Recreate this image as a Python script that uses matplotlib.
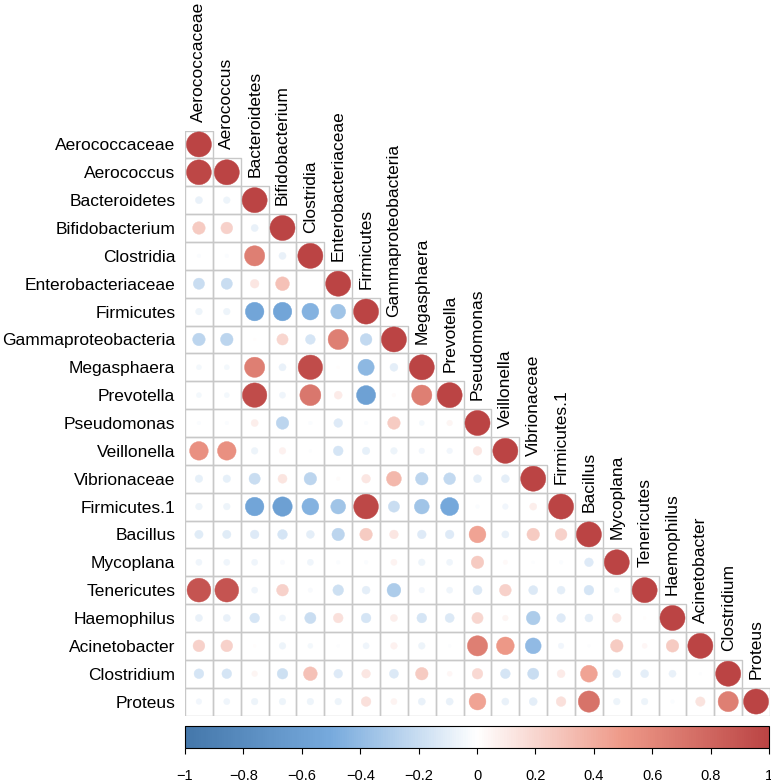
import numpy as np
import matplotlib
matplotlib.use("Agg")
import matplotlib.pyplot as plt
from matplotlib.patches import Circle, Rectangle
from matplotlib.collections import PatchCollection
from matplotlib.colors import LinearSegmentedColormap, Normalize

plt.rcParams['font.family'] = ['Liberation Sans', 'DejaVu Sans']

taxa = ["Aerococcaceae", "Aerococcus", "Bacteroidetes", "Bifidobacterium", "Clostridia",
        "Enterobacteriaceae", "Firmicutes", "Gammaproteobacteria", "Megasphaera", "Prevotella",
        "Pseudomonas", "Veillonella", "Vibrionaceae", "Firmicutes.1", "Bacillus", "Mycoplana",
        "Tenericutes", "Haemophilus", "Acinetobacter", "Clostridium", "Proteus"]

# lower triangle, row i holds correlations with taxa 0..i-1 (diagonal = 1)
corr_lower = [
    [],
    [0.98],
    [-0.08, -0.07],
    [0.25, 0.22, -0.08],
    [-0.02, -0.02, 0.65, -0.08],
    [-0.2, -0.2, 0.12, 0.3, 0.0],
    [-0.07, -0.07, -0.55, -0.55, -0.45, -0.35],
    [-0.25, -0.25, 0.01, 0.2, -0.15, 0.65, -0.22],
    [-0.04, -0.04, 0.65, -0.08, 0.95, 0.01, -0.42, -0.1],
    [-0.04, -0.04, 0.95, -0.06, 0.7, 0.1, -0.58, 0.02, 0.65],
    [-0.02, -0.02, 0.08, -0.25, -0.02, -0.12, -0.02, 0.25, -0.04, 0.05],
    [0.55, 0.55, -0.07, 0.07, -0.01, -0.15, -0.09, -0.07, -0.05, -0.05, 0.12],
    [-0.09, -0.09, -0.2, 0.13, -0.25, 0.02, 0.12, 0.35, -0.25, -0.22, -0.1, -0.1],
    [-0.07, -0.07, -0.55, -0.6, -0.45, -0.35, 0.97, -0.2, -0.35, -0.52, -0.02, -0.05, 0.08],
    [-0.11, -0.11, -0.12, -0.15, -0.1, -0.25, 0.25, 0.12, -0.12, -0.12, 0.45, -0.08, 0.25, 0.22],
    [-0.06, -0.06, -0.06, -0.03, -0.06, -0.02, -0.02, 0.06, -0.07, -0.06, 0.25, 0.03, -0.01,
     -0.02, -0.12],
    [0.9, 0.9, -0.06, 0.22, -0.03, -0.18, -0.1, -0.3, -0.05, -0.06, -0.13, 0.22, -0.13, -0.1,
     -0.15, -0.04],
    [-0.08, -0.08, -0.15, -0.06, -0.2, 0.15, -0.15, 0.08, -0.15, -0.13, 0.2, 0.05, -0.3, -0.12,
     -0.1, 0.12, 0.01],
    [0.22, 0.22, 0.01, -0.07, -0.04, -0.01, -0.06, 0.07, -0.07, -0.01, 0.65, 0.5, -0.4, -0.05,
     -0.01, 0.25, 0.04, 0.25],
    [-0.15, -0.15, 0.05, -0.18, 0.3, -0.12, 0.12, -0.13, 0.25, 0.04, 0.18, -0.15, -0.2, 0.1,
     0.45, -0.1, -0.1, -0.08, -0.01],
    [-0.05, -0.06, -0.07, -0.07, -0.07, -0.07, 0.15, 0.06, -0.08, -0.08, 0.45, -0.08, -0.1, 0.15,
     0.72, -0.07, -0.07, -0.02, 0.14, 0.65],
]

cbar_ticks = [-1, -0.8, -0.6, -0.4, -0.2, 0, 0.2, 0.4, 0.6, 0.8, 1]

n = len(taxa)
cmap = LinearSegmentedColormap.from_list(
    "corr", ["#4477AA", "#77AADD", "#FFFFFF", "#EE9988", "#BB4444"])
norm = Normalize(-1, 1)

fig = plt.figure(figsize=(7.71, 7.82), dpi=100)
ax = fig.add_axes([185 / 771, 66 / 782, 585 / 771, 586 / 782])

cells, circles, vals = [], [], []
for i in range(n):
    row = list(corr_lower[i]) + [1.0]
    for j, r in enumerate(row):
        cells.append(Rectangle((j - 0.5, i - 0.5), 1, 1))
        circles.append(Circle((j, i), 0.45 * np.sqrt(abs(r))))
        vals.append(r)

ax.add_collection(PatchCollection(cells, facecolor="none", edgecolor="#c8c8c8", lw=1.0))
pc = PatchCollection(circles, cmap=cmap, norm=norm, edgecolor="face", lw=0.3)
pc.set_array(np.array(vals))
ax.add_collection(pc)

ax.set_xlim(-0.5, n - 0.5)
ax.set_ylim(n - 0.5, -0.5)
ax.set_aspect("equal")
for s in ax.spines.values():
    s.set_visible(False)
ax.set_xticks([])
ax.set_yticks(range(n))
ax.set_yticklabels(taxa, fontsize=12.5)
ax.tick_params(axis="y", length=0, pad=7)

for j, name in enumerate(taxa):
    ax.text(j, j - 0.5 - 0.32, name, rotation=90, ha="center", va="bottom",
            fontsize=12.5, clip_on=False)

cax = fig.add_axes([185 / 771, 34 / 782, 584 / 771, 22 / 782])
cb = fig.colorbar(plt.cm.ScalarMappable(norm=norm, cmap=cmap), cax=cax,
                  orientation="horizontal", ticks=cbar_ticks)
cb.ax.set_xticklabels([f"{t:g}".replace("-", "\u2212") for t in cbar_ticks])
cb.ax.tick_params(length=4, width=0.8, pad=11, labelsize=10.5)
cb.outline.set_linewidth(0.8)

fig.savefig("out.png", dpi=100)
